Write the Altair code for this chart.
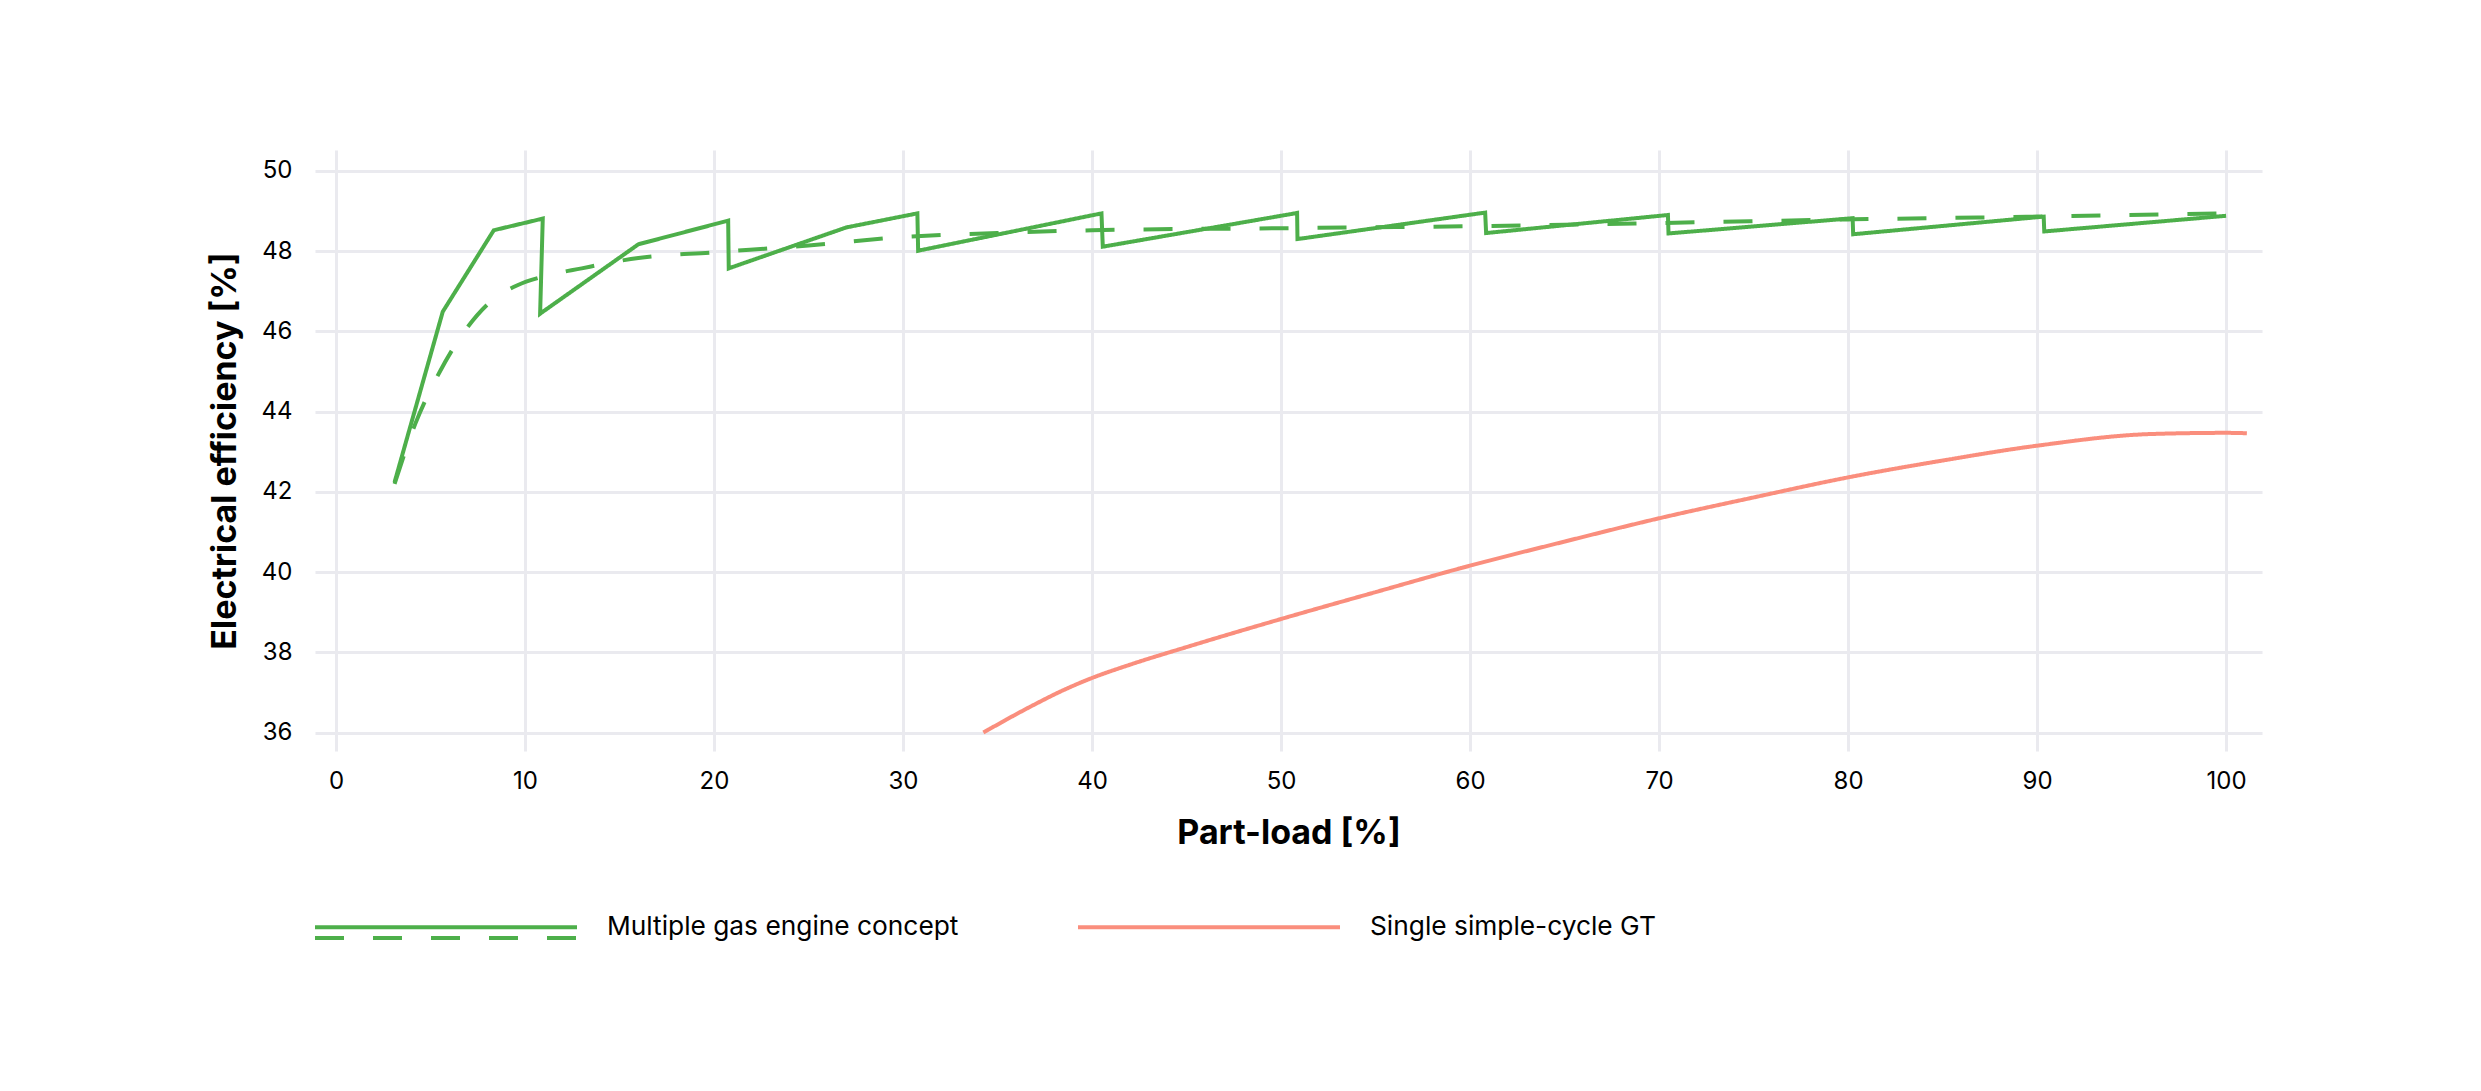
import altair as alt
import pandas as pd

SERIES_ENGINE = "Multiple gas engine concept"
SERIES_GT = "Single simple-cycle GT"
GREEN = "#4DAF4A"
SALMON = "#FA8E7D"

# Multiple gas engine concept (solid, stepwise)
engine_solid_x = [3.1, 5.65, 8.35, 10.94, 10.8, 16.0, 20.75, 20.78, 27.0, 30.76, 30.8,
                  40.5, 40.57, 50.85, 50.87, 60.8, 60.85, 70.47, 70.5, 80.24, 80.27,
                  90.35, 90.38, 100.0]
engine_solid_y = [42.24, 46.49, 48.52, 48.81, 46.44, 48.17, 48.76, 47.57, 48.59, 48.94, 48.01,
                  48.94, 48.11, 48.95, 48.30, 48.96, 48.45, 48.90, 48.44, 48.82, 48.42,
                  48.86, 48.49, 48.88]

# Multiple gas engine concept (dashed, envelope)
engine_dashed_x = [3.1, 4.2, 5.5, 6.8, 8.2, 9.6, 11.0, 13.0, 16.0, 20.0, 25.0, 30.0,
                   35.0, 40.0, 50.0, 60.0, 70.0, 80.0, 90.0, 100.0]
engine_dashed_y = [42.2, 43.7, 45.0, 46.0, 46.75, 47.15, 47.37, 47.57, 47.83, 47.97, 48.14, 48.35,
                   48.45, 48.52, 48.57, 48.62, 48.70, 48.79, 48.86, 48.94]

# Single simple-cycle GT
gt_x = [34.25, 36.8, 38.5, 40.0, 42.0, 45.0, 50.0, 55.0, 60.0, 65.0, 70.0, 75.0, 80.0,
        85.0, 90.0, 96.0, 100.0, 101.1]
gt_y = [36.0, 36.66, 37.06, 37.36, 37.69, 38.13, 38.83, 39.5, 40.16, 40.76, 41.34, 41.86, 42.36,
        42.78, 43.15, 43.44, 43.47, 43.46]

x_ticks = [0, 10, 20, 30, 40, 50, 60, 70, 80, 90, 100]
y_ticks = [36, 38, 40, 42, 44, 46, 48, 50]

rows = []
for i, (x, y) in enumerate(zip(engine_solid_x, engine_solid_y)):
    rows.append({"load": x, "eff": y, "series": SERIES_ENGINE, "style": "solid", "idx": i})
for i, (x, y) in enumerate(zip(engine_dashed_x, engine_dashed_y)):
    rows.append({"load": x, "eff": y, "series": SERIES_ENGINE, "style": "dashed", "idx": i})
for i, (x, y) in enumerate(zip(gt_x, gt_y)):
    rows.append({"load": x, "eff": y, "series": SERIES_GT, "style": "solid", "idx": i})
df = pd.DataFrame(rows)

FONT = "Inter"

x_enc = alt.X(
    "load:Q",
    scale=alt.Scale(domain=[-1.11, 101.9], nice=False, zero=False),
    axis=alt.Axis(values=x_ticks, title="Part-load [%]", labelPadding=30,
                  labelBaseline="middle", titleY=82, titleBaseline="middle"),
)
y_enc = alt.Y(
    "eff:Q",
    scale=alt.Scale(domain=[35.54, 50.52], nice=False, zero=False),
    axis=alt.Axis(values=y_ticks, title="Electrical efficiency [%]", labelPadding=23,
                  titleX=-90, titleBaseline="middle"),
)
color_enc = alt.Color(
    "series:N",
    scale=alt.Scale(domain=[SERIES_ENGINE, SERIES_GT], range=[GREEN, SALMON]),
    legend=alt.Legend(
        title=None, orient="none", legendX=-2, legendY=644, direction="horizontal",
        symbolType="stroke", symbolSize=262 * 262, symbolStrokeWidth=4,
        labelOffset=28, columnPadding=111, labelFontSize=26.3, labelFont=FONT,
        labelColor="#000000", labelLimit=0, padding=0,
    ),
)
dash_enc = alt.StrokeDash(
    "style:N",
    scale=alt.Scale(domain=["solid", "dashed"], range=[[1, 0], [29, 29]]),
    legend=alt.Legend(
        title=None, orient="none", legendX=-2, legendY=655, values=["dashed"],
        labelExpr="''", symbolType="stroke", symbolSize=262 * 262, symbolStrokeWidth=4,
        symbolStrokeColor=GREEN, padding=0,
    ),
)

base = alt.Chart(df).encode(
    x=x_enc, y=y_enc, color=color_enc, strokeDash=dash_enc, order=alt.Order("idx:Q")
)

solid_layer = base.transform_filter(
    (alt.datum.series == SERIES_ENGINE) & (alt.datum.style == "solid")
).mark_line(interpolate="linear", strokeWidth=4, strokeJoin="miter", clip=True)

smooth_layer = base.transform_filter(
    (alt.datum.series == SERIES_GT) | (alt.datum.style == "dashed")
).mark_line(interpolate="monotone", strokeWidth=4, clip=True)

chart = (
    alt.layer(solid_layer, smooth_layer)
    .properties(
        width=1947,
        height=601,
        autosize=alt.AutoSizeParams(type="none"),
        padding={"left": 315, "top": 150, "right": 219, "bottom": 340},
        background="#FFFFFF",
    )
    .configure_view(stroke=None)
    .configure_axis(
        labelFont=FONT, labelFontSize=24, labelColor="#000000",
        titleFont=FONT, titleFontSize=34, titleFontWeight="bold", titleColor="#000000",
        grid=True, gridColor="#EAEAEF", gridWidth=3,
        domain=False, ticks=False, tickSize=0,
    )
    .configure_legend(symbolBaseStrokeColor=GREEN)
)

chart.save("out.html", embed_options={"renderer": "svg", "actions": False})
